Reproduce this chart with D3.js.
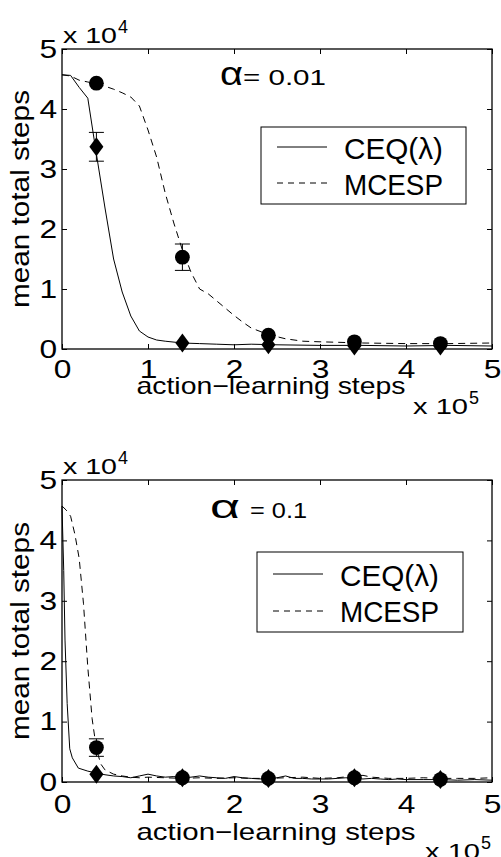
<!DOCTYPE html>
<html>
<head>
<meta charset="utf-8">
<script src="https://cdn.jsdelivr.net/npm/d3@7"></script>
<style>
  body { margin: 0; background: #fff; }
  svg { display: block; }
  text { font-family: "Liberation Sans", Arial, sans-serif; fill: #000; }
</style>
</head>
<body>
<div id="chart"></div>
<script>
const w = 501;
const h = 857;

// x in units of 1e5 action-learning steps, y in units of 1e4 mean total steps
const xTicks = [0, 1, 2, 3, 4, 5];
const yTicks = [0, 1, 2, 3, 4, 5];
const seriesNames = ["CEQ(\u03bb)", "MCESP"];
const markX = [0.4, 1.4, 2.4, 3.4, 4.4];

// alpha = 0.01
const ceqTop = [[0,4.57],[0.1,4.56],[0.2,4.36],[0.3,4.18],[0.4,3.25],[0.5,2.35],[0.6,1.5],[0.7,0.95],
  [0.8,0.55],[0.9,0.3],[1.0,0.2],[1.1,0.15],[1.2,0.13],[1.4,0.1],[1.6,0.09],[1.8,0.08],[2.0,0.07],
  [2.2,0.08],[2.5,0.07],[3.0,0.06],[3.5,0.06],[4.0,0.05],[4.5,0.06],[5.0,0.05]];
const mcespTop = [[0,4.57],[0.1,4.55],[0.2,4.48],[0.3,4.45],[0.4,4.42],[0.5,4.38],[0.6,4.33],[0.7,4.27],
  [0.8,4.2],[0.9,4.05],[1.0,3.65],[1.1,3.2],[1.2,2.6],[1.3,2.1],[1.4,1.65],[1.5,1.28],[1.6,1.0],
  [1.7,0.92],[1.8,0.8],[1.9,0.68],[2.0,0.56],[2.1,0.45],[2.2,0.35],[2.4,0.24],[2.6,0.17],[2.8,0.13],
  [3.0,0.12],[3.5,0.1],[4.0,0.09],[4.5,0.09],[5.0,0.1]];
const ceqMarkTop = [3.37, 0.1, 0.07, 0.05, 0.05];
const ceqErrTop = [0.24, 0, 0, 0, 0];
const mcespMarkTop = [4.43, 1.53, 0.23, 0.12, 0.09];
const mcespErrTop = [0, 0.22, 0, 0, 0];

// alpha = 0.1
const ceqBot = [[0,4.57],[0.02,3.5],[0.035,2.35],[0.06,1.3],[0.09,0.55],[0.12,0.4],[0.19,0.23],[0.3,0.18],
  [0.4,0.15],[0.5,0.12],[0.6,0.1],[0.7,0.09],[0.8,0.07],[0.9,0.1],[1.0,0.13],[1.1,0.1],[1.2,0.08],
  [1.3,0.09],[1.4,0.07],[1.5,0.08],[1.6,0.1],[1.7,0.08],[1.8,0.07],[1.9,0.06],[2.0,0.09],[2.1,0.07],
  [2.2,0.06],[2.3,0.05],[2.4,0.06],[2.5,0.07],[2.6,0.1],[2.7,0.06],[2.8,0.06],[2.9,0.05],[3.0,0.05],
  [3.1,0.05],[3.2,0.06],[3.3,0.07],[3.4,0.06],[3.5,0.05],[3.6,0.06],[3.7,0.05],[3.8,0.04],[3.9,0.05],
  [4.0,0.04],[4.2,0.04],[4.4,0.04],[4.6,0.03],[4.8,0.04],[5.0,0.03]];
const mcespBot = [[0,4.57],[0.05,4.5],[0.1,4.4],[0.15,4.1],[0.2,3.7],[0.25,2.95],[0.3,1.9],[0.35,1.05],
  [0.4,0.55],[0.45,0.3],[0.5,0.2],[0.6,0.13],[0.7,0.1],[0.8,0.08],[0.9,0.07],[1.0,0.08],[1.2,0.07],
  [1.4,0.06],[1.6,0.07],[1.8,0.06],[2.0,0.07],[2.2,0.06],[2.4,0.06],[2.6,0.07],[2.8,0.08],[3.0,0.06],
  [3.2,0.07],[3.4,0.1],[3.5,0.11],[3.6,0.08],[3.8,0.06],[4.0,0.06],[4.2,0.07],[4.4,0.06],[4.6,0.06],
  [4.8,0.06],[5.0,0.07]];
const ceqMarkBot = [0.13, 0.07, 0.06, 0.07, 0.04];
const ceqErrBot = [0, 0, 0, 0, 0];
const mcespMarkBot = [0.57, 0.07, 0.06, 0.07, 0.04];
const mcespErrBot = [0.145, 0, 0, 0, 0];

const panels = [
  { top: 49, bottom: 349, alpha: "= 0.01", ceq: ceqTop, mcesp: mcespTop,
    ceqMark: ceqMarkTop, ceqErr: ceqErrTop, mcespMark: mcespMarkTop, mcespErr: mcespErrTop,
    tickPad: 11, xlab: { cx: 271, y: 394, len: 269 }, x10: { x: 413, y: 414 },
    alphaPos: { x: 220, y: 85, len: 23, ex: 243, elen: 83 },
    legend: { x: 261, y: 127, w: 205, h: 77, l1: 147, l2: 183, t1: 159, t2: 195 } },
  { top: 480, bottom: 782, alpha: "= 0.1", ceq: ceqBot, mcesp: mcespBot,
    ceqMark: ceqMarkBot, ceqErr: ceqErrBot, mcespMark: mcespMarkBot, mcespErr: mcespErrBot,
    tickPad: 13, xlab: { cx: 276, y: 840, len: 279 }, x10: { x: 425, y: 859 },
    alphaPos: { x: 210, y: 518, len: 30, ex: 250, elen: 57 },
    legend: { x: 257, y: 552, w: 206, h: 80, l1: 574, l2: 611, t1: 586, t2: 622 } }
];

const left = 62, right = 492;
const svg = d3.select("#chart").append("svg").attr("width", w).attr("height", h);
const x = d3.scaleLinear().domain([0, 5]).range([left, right]);

panels.forEach(function(p) {
  const y = d3.scaleLinear().domain([0, 5]).range([p.bottom, p.top]);
  const g = svg.append("g");

  const line = d3.line().x(d => x(d[0])).y(d => y(d[1]));
  g.append("path").datum(p.ceq).attr("d", line)
    .attr("fill", "none").attr("stroke", "#000").attr("stroke-width", 1);
  g.append("path").datum(p.mcesp).attr("d", line)
    .attr("fill", "none").attr("stroke", "#000").attr("stroke-width", 1)
    .attr("stroke-dasharray", "7,5");

  // error bars
  const errs = [];
  markX.forEach((mx, i) => {
    if (p.ceqErr[i] > 0) errs.push([mx, p.ceqMark[i], p.ceqErr[i]]);
    if (p.mcespErr[i] > 0) errs.push([mx, p.mcespMark[i], p.mcespErr[i]]);
  });
  errs.forEach(function(e) {
    const cx = x(e[0]);
    g.append("line").attr("x1", cx).attr("x2", cx)
      .attr("y1", y(e[1] - e[2])).attr("y2", y(e[1] + e[2])).attr("stroke", "#000");
    [e[1] - e[2], e[1] + e[2]].forEach(v => {
      g.append("line").attr("x1", cx - 7.5).attr("x2", cx + 7.5)
        .attr("y1", y(v)).attr("y2", y(v)).attr("stroke", "#000");
    });
  });

  // diamonds (CEQ) and circles (MCESP)
  g.selectAll(".dia").data(markX).enter().append("path")
    .attr("d", (d, i) => {
      const cx = x(d), cy = y(p.ceqMark[i]);
      return "M" + cx + "," + (cy - 9.5) + "L" + (cx + 7) + "," + cy + "L" + cx + "," + (cy + 9.5) +
        "L" + (cx - 7) + "," + cy + "Z";
    })
    .attr("fill", "#000");
  g.selectAll(".dot").data(markX).enter().append("circle")
    .attr("cx", d => x(d)).attr("cy", (d, i) => y(p.mcespMark[i])).attr("r", 7.4)
    .attr("fill", "#000");

  // axes: inward ticks, labels on bottom and left
  const fmt = d3.format("d");
  const xAxis = d3.axisBottom(x).tickValues(xTicks).tickFormat(fmt)
    .tickSizeInner(-5).tickSizeOuter(0).tickPadding(p.tickPad);
  const yAxis = d3.axisLeft(y).tickValues(yTicks).tickFormat(fmt)
    .tickSizeInner(-5).tickSizeOuter(0).tickPadding(4);
  const xg = g.append("g").attr("transform", "translate(0," + p.bottom + ")").call(xAxis);
  const yg = g.append("g").attr("transform", "translate(" + left + ",0)").call(yAxis);
  g.append("g").attr("transform", "translate(0," + p.top + ")")
    .call(d3.axisTop(x).tickValues(xTicks).tickSizeInner(-5).tickSizeOuter(0).tickFormat(""));
  g.append("g").attr("transform", "translate(" + right + ",0)")
    .call(d3.axisRight(y).tickValues(yTicks).tickSizeInner(-5).tickSizeOuter(0).tickFormat(""));
  g.selectAll(".domain").remove();
  g.selectAll(".tick line").attr("stroke", "#000");
  [xg, yg].forEach(a => a.selectAll("text")
    .attr("font-size", 26).attr("font-family", "Liberation Sans, Arial, sans-serif")
    .attr("fill", "#000").attr("transform", "scale(1.22,1)"));

  g.append("rect").attr("x", left).attr("y", p.top)
    .attr("width", right - left).attr("height", p.bottom - p.top)
    .attr("fill", "none").attr("stroke", "#000").attr("stroke-width", 1.3);

  // exponent labels
  g.append("text").attr("x", 63).attr("y", p.top - 6).attr("font-size", 22)
    .attr("textLength", 54).attr("lengthAdjust", "spacingAndGlyphs").text("x 10");
  g.append("text").attr("x", 118).attr("y", p.top - 16).attr("font-size", 18)
    .attr("textLength", 10).attr("lengthAdjust", "spacingAndGlyphs").text("4");
  g.append("text").attr("x", p.x10.x).attr("y", p.x10.y).attr("font-size", 22)
    .attr("textLength", 55).attr("lengthAdjust", "spacingAndGlyphs").text("x 10");
  g.append("text").attr("x", p.x10.x + 56).attr("y", p.x10.y - 10).attr("font-size", 18)
    .attr("textLength", 10).attr("lengthAdjust", "spacingAndGlyphs").text("5");

  // axis labels
  g.append("text").attr("x", p.xlab.cx).attr("y", p.xlab.y).attr("text-anchor", "middle")
    .attr("font-size", 24).attr("textLength", p.xlab.len).attr("lengthAdjust", "spacingAndGlyphs")
    .text("action\u2212learning steps");
  g.append("text").attr("transform", "translate(29," + ((p.top + p.bottom) / 2) + ") rotate(-90)")
    .attr("text-anchor", "middle").attr("font-size", 25)
    .attr("textLength", 218).attr("lengthAdjust", "spacingAndGlyphs")
    .text("mean total steps");

  // alpha annotation
  g.append("text").attr("x", p.alphaPos.x).attr("y", p.alphaPos.y)
    .attr("font-family", "Liberation Serif, serif").attr("font-size", 34)
    .attr("textLength", p.alphaPos.len).attr("lengthAdjust", "spacingAndGlyphs").text("\u03b1");
  g.append("text").attr("x", p.alphaPos.ex).attr("y", p.alphaPos.y).attr("font-size", 22)
    .attr("textLength", p.alphaPos.elen).attr("lengthAdjust", "spacingAndGlyphs").text(p.alpha);

  // legend
  const L = p.legend;
  g.append("rect").attr("x", L.x).attr("y", L.y).attr("width", L.w).attr("height", L.h)
    .attr("fill", "#fff").attr("stroke", "#000").attr("stroke-width", 1);
  g.append("line").attr("x1", L.x + 16).attr("x2", L.x + 66).attr("y1", L.l1).attr("y2", L.l1)
    .attr("stroke", "#000");
  g.append("line").attr("x1", L.x + 16).attr("x2", L.x + 66).attr("y1", L.l2).attr("y2", L.l2)
    .attr("stroke", "#000").attr("stroke-dasharray", "6,5");
  [L.t1, L.t2].forEach((ty, i) => {
    g.append("text").attr("x", L.x + 83).attr("y", ty).attr("font-size", 29)
      .attr("textLength", 99).attr("lengthAdjust", "spacingAndGlyphs").text(seriesNames[i]);
  });
});
</script>
</body>
</html>
